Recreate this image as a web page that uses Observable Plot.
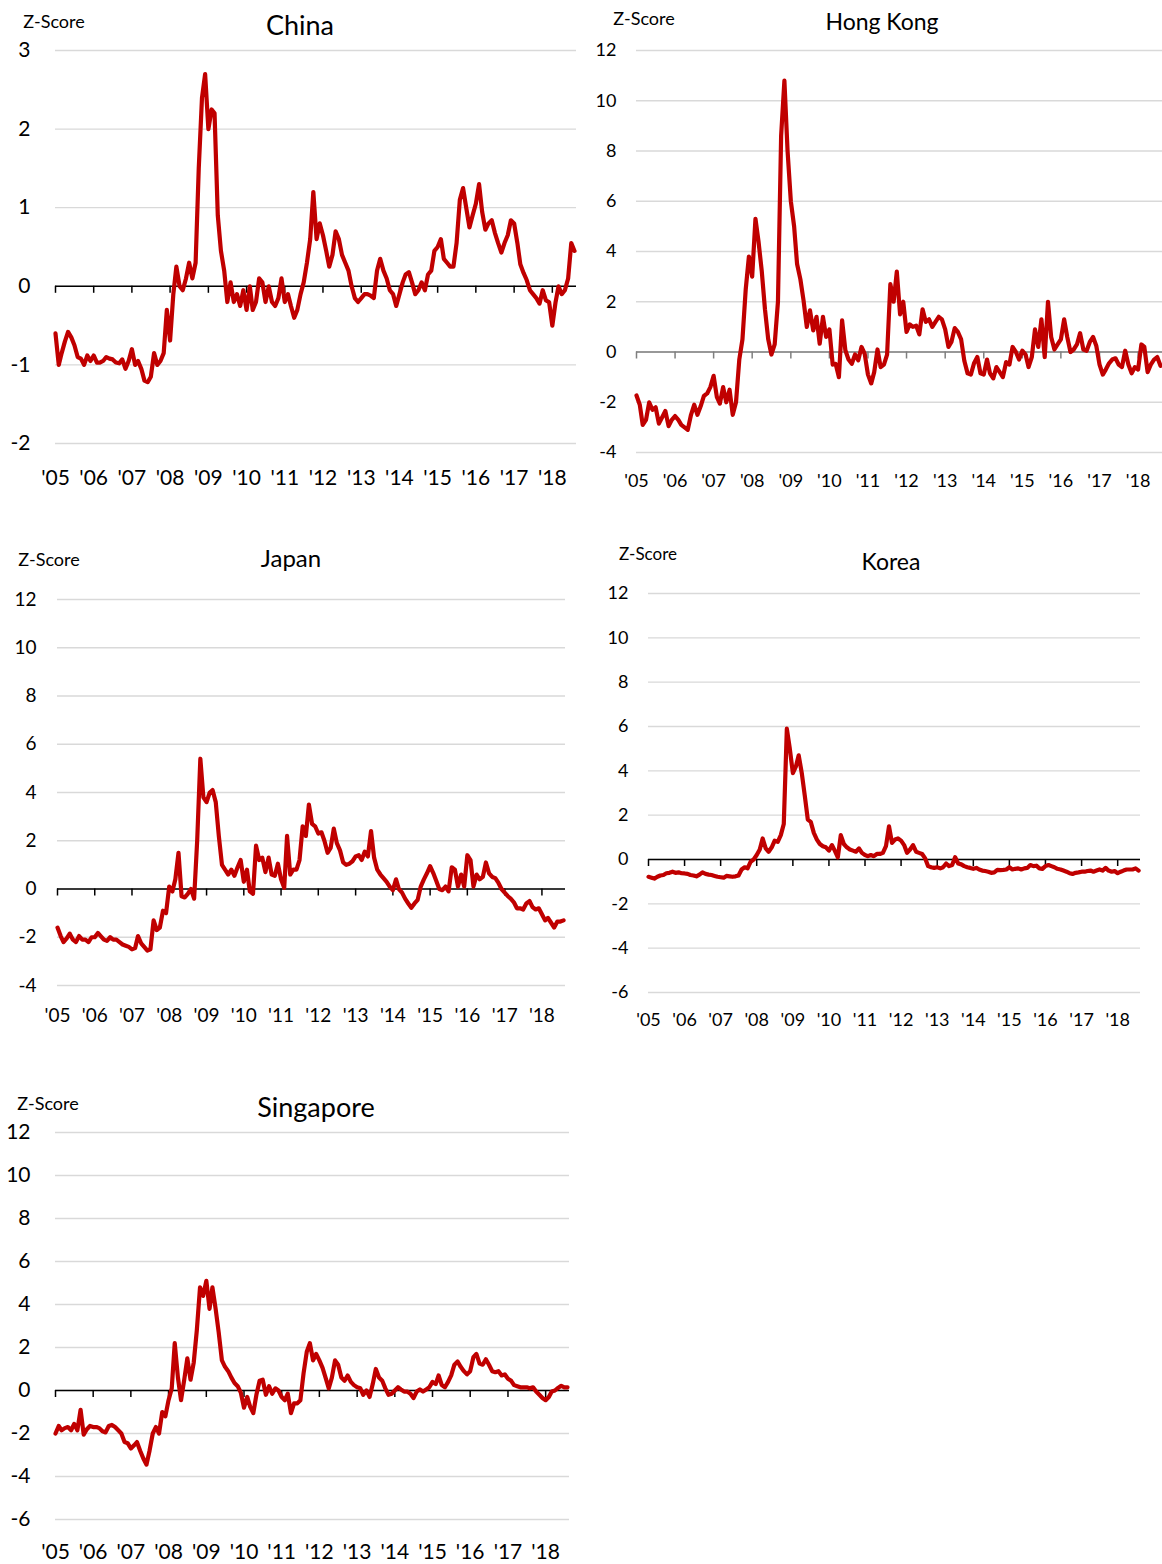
<!DOCTYPE html>
<html><head><meta charset="utf-8">
<script src="https://cdn.jsdelivr.net/npm/d3@7"></script>
<script src="https://cdn.jsdelivr.net/npm/@observablehq/plot@0.6"></script>
<style>
body{margin:0;background:#fff;width:1162px;height:1564px;position:relative;overflow:hidden;font-family:Lato,"Open Sans",sans-serif;color:#000;}
.box{position:absolute;}
.box svg{overflow:visible;}
.lbl{position:absolute;white-space:nowrap;transform:translate(-50%,-50%);line-height:1;}
</style></head><body>
<script>
// ---------- data (monthly readings, Jan 2005 – Aug 2018) ----------
const xTickLabels = ["'05","'06","'07","'08","'09","'10","'11","'12","'13","'14","'15","'16","'17","'18"];
const chinaTicks = [-2,-1,0,1,2,3];
const hkTicks = [-4,-2,0,2,4,6,8,10,12];
const japanTicks = [-4,-2,0,2,4,6,8,10,12];
const koreaTicks = [-6,-4,-2,0,2,4,6,8,10,12];
const singaporeTicks = [-6,-4,-2,0,2,4,6,8,10,12];

const china = [
-0.6,-1.0,-0.85,-0.7,-0.58,-0.65,-0.75,-0.9,-0.92,-1.0,-0.88,-0.95,
-0.88,-0.97,-0.97,-0.95,-0.9,-0.92,-0.93,-0.97,-0.98,-0.93,-1.05,-0.95,
-0.8,-1.0,-0.95,-1.05,-1.2,-1.22,-1.15,-0.85,-1.0,-0.95,-0.85,-0.3,
-0.69,-0.1,0.25,0.0,-0.05,0.1,0.3,0.1,0.3,1.5,2.4,2.7,
2.0,2.25,2.2,0.9,0.45,0.2,-0.2,0.05,-0.2,-0.1,-0.25,-0.05,
-0.3,0.0,-0.3,-0.2,0.1,0.05,-0.2,0.0,-0.2,-0.25,-0.15,0.1,
-0.2,-0.1,-0.25,-0.4,-0.3,-0.1,0.05,0.3,0.6,1.2,0.6,0.8,
0.65,0.45,0.25,0.4,0.7,0.6,0.4,0.3,0.2,0.0,-0.15,-0.2,
-0.15,-0.1,-0.1,-0.12,-0.15,0.2,0.35,0.2,0.1,-0.05,-0.1,-0.25,
-0.1,0.05,0.15,0.18,0.05,-0.1,-0.05,0.05,-0.05,0.15,0.2,0.45,
0.5,0.6,0.35,0.3,0.25,0.25,0.55,1.1,1.25,1.0,0.75,0.9,
1.05,1.3,0.95,0.72,0.8,0.84,0.68,0.55,0.43,0.55,0.65,0.84,
0.8,0.55,0.28,0.17,0.08,-0.05,-0.1,-0.15,-0.22,-0.05,-0.18,-0.2,
-0.5,-0.2,0.0,-0.1,-0.05,0.1,0.55,0.45];

const hongKong = [
-1.73,-2.1,-2.9,-2.7,-2.0,-2.3,-2.2,-2.85,-2.6,-2.35,-2.95,-2.7,
-2.55,-2.7,-2.9,-3.0,-3.1,-2.5,-2.1,-2.5,-2.15,-1.75,-1.65,-1.4,
-0.95,-1.8,-2.05,-1.4,-2.0,-1.5,-2.5,-2.0,-0.3,0.5,2.5,3.8,
3.0,5.3,4.4,3.2,1.7,0.5,-0.1,0.3,2.0,8.6,10.8,8.0,
6.0,5.0,3.5,2.9,2.06,1.0,1.66,0.86,1.4,0.33,1.4,0.6,
0.9,-0.5,-0.47,-1.0,1.26,0.07,-0.3,-0.47,-0.1,-0.33,0.2,-0.07,
-0.9,-1.25,-0.8,0.1,-0.6,-0.5,-0.1,2.7,2.0,3.2,1.5,2.0,
0.8,1.1,1.0,1.05,0.7,1.7,1.2,1.3,1.0,1.2,1.4,1.3,
0.9,0.2,0.4,0.95,0.8,0.5,-0.35,-0.85,-0.9,-0.45,-0.2,-0.85,
-0.9,-0.3,-0.85,-1.05,-0.6,-0.8,-1.0,-0.4,-0.5,0.2,0.0,-0.3,
0.05,-0.1,-0.6,-0.2,0.9,0.2,1.3,-0.2,2.0,0.6,0.1,0.3,
0.5,1.3,0.6,0.0,0.1,0.3,0.75,0.1,0.05,0.4,0.6,0.25,
-0.5,-0.9,-0.7,-0.45,-0.3,-0.25,-0.5,-0.6,0.05,-0.5,-0.85,-0.6,
-0.7,0.3,0.2,-0.8,-0.5,-0.3,-0.2,-0.55];

const japan = [
-1.6,-1.95,-2.2,-2.05,-1.85,-2.1,-2.2,-1.95,-2.1,-2.1,-2.2,-2.0,
-2.0,-1.82,-1.95,-2.1,-2.15,-2.0,-2.1,-2.1,-2.2,-2.3,-2.35,-2.4,
-2.5,-2.45,-1.95,-2.25,-2.4,-2.55,-2.5,-1.3,-1.7,-1.6,-0.9,-1.0,
0.1,-0.1,0.4,1.5,-0.3,-0.35,-0.2,0.0,-0.4,2.0,5.4,3.8,
3.6,4.0,4.1,3.6,2.2,1.0,0.8,0.6,0.8,0.55,0.9,1.2,
0.3,0.8,-0.1,-0.2,1.8,1.2,1.3,0.7,1.3,0.6,0.55,1.05,
0.4,0.05,2.2,0.6,0.8,0.8,1.2,2.6,2.2,3.5,2.7,2.6,
2.3,2.35,2.0,1.5,1.7,2.5,1.9,1.6,1.1,1.0,1.05,1.15,
1.35,1.4,1.2,1.55,1.35,2.4,1.3,0.8,0.6,0.45,0.3,0.1,
-0.05,0.4,0.0,-0.15,-0.4,-0.6,-0.78,-0.6,-0.45,0.1,0.4,0.65,
0.95,0.66,0.35,0.0,-0.05,0.1,-0.1,0.9,0.8,0.1,0.6,0.1,
1.4,1.2,0.1,0.6,0.4,0.5,1.1,0.65,0.5,0.45,0.25,0.0,
-0.15,-0.3,-0.4,-0.55,-0.8,-0.8,-0.85,-0.6,-0.5,-0.75,-0.85,-0.8,
-1.05,-1.3,-1.2,-1.4,-1.6,-1.35,-1.35,-1.3];

const korea = [
-0.78,-0.82,-0.86,-0.78,-0.72,-0.7,-0.62,-0.6,-0.55,-0.6,-0.58,-0.62,
-0.63,-0.65,-0.7,-0.72,-0.76,-0.68,-0.58,-0.65,-0.68,-0.7,-0.74,-0.78,
-0.8,-0.82,-0.74,-0.76,-0.78,-0.76,-0.72,-0.45,-0.35,-0.4,-0.1,0.0,
0.2,0.45,0.95,0.5,0.35,0.55,0.85,0.8,1.1,1.6,5.9,5.0,
3.9,4.2,4.7,3.9,2.9,1.8,1.7,1.2,0.9,0.7,0.6,0.55,
0.4,0.65,0.4,0.1,1.1,0.7,0.55,0.45,0.4,0.35,0.5,0.3,
0.2,0.15,0.2,0.15,0.25,0.25,0.3,0.6,1.5,0.75,0.9,0.95,
0.85,0.65,0.3,0.45,0.65,0.35,0.3,0.25,0.05,-0.3,-0.35,-0.38,
-0.35,-0.4,-0.35,-0.18,-0.3,-0.25,0.1,-0.18,-0.22,-0.3,-0.35,-0.38,
-0.42,-0.38,-0.45,-0.5,-0.52,-0.55,-0.6,-0.58,-0.47,-0.48,-0.47,-0.45,
-0.35,-0.45,-0.42,-0.4,-0.45,-0.4,-0.38,-0.25,-0.3,-0.28,-0.4,-0.42,
-0.3,-0.25,-0.3,-0.35,-0.42,-0.45,-0.5,-0.55,-0.62,-0.65,-0.6,-0.58,
-0.55,-0.55,-0.52,-0.5,-0.55,-0.5,-0.45,-0.5,-0.38,-0.5,-0.55,-0.52,
-0.62,-0.55,-0.5,-0.45,-0.45,-0.45,-0.4,-0.5];

const singapore = [
-2.0,-1.65,-1.85,-1.75,-1.7,-1.85,-1.55,-1.85,-0.9,-2.05,-1.8,-1.65,
-1.7,-1.7,-1.75,-1.9,-1.95,-1.65,-1.6,-1.7,-1.85,-2.0,-2.4,-2.45,
-2.7,-2.55,-2.4,-2.8,-3.15,-3.45,-2.8,-2.0,-1.7,-2.0,-1.0,-1.2,
-0.45,0.1,2.2,0.6,-0.45,0.5,1.5,0.5,1.3,2.8,4.8,4.4,
5.1,3.8,4.8,3.8,2.7,1.4,1.1,0.9,0.6,0.35,0.2,-0.1,
-0.8,-0.3,-0.75,-1.05,-0.2,0.45,0.5,-0.2,0.2,-0.15,0.1,0.0,
-0.3,-0.45,-0.15,-1.05,-0.6,-0.6,-0.45,0.8,1.8,2.2,1.4,1.7,
1.4,1.05,0.6,0.1,0.6,1.4,1.2,0.6,0.45,0.7,0.4,0.25,
0.15,0.1,-0.2,0.0,-0.3,0.3,1.0,0.6,0.45,0.1,-0.2,-0.15,
0.0,0.15,0.05,-0.05,-0.05,-0.15,-0.35,-0.05,0.05,-0.05,0.05,0.15,
0.4,0.3,0.7,0.25,0.15,0.4,0.7,1.2,1.35,1.1,0.9,0.75,
0.9,1.55,1.7,1.25,1.2,1.45,1.2,0.9,0.85,0.9,0.7,0.75,
0.55,0.45,0.25,0.2,0.15,0.15,0.15,0.1,0.15,-0.05,-0.2,-0.35,
-0.45,-0.3,-0.05,0.0,0.12,0.22,0.15,0.15];

// ---------- layout ----------
const FONT = "Lato, 'Open Sans', sans-serif";
const startDate = new Date(Date.UTC(2005, 0, 1));
const endDate = new Date(Date.UTC(2018, 7, 20));
const yearDates = d3.utcYear.range(startDate, new Date(Date.UTC(2019, 0, 1)));

const panels = [
  {title:"China", values:china, yDomain:[-2,3], yTicks:chinaTicks, boxLeft:0, left:55, right:576, top:50, bottom:443, mr:10,
   zero:"#000", yFont:21, yPad:25, xFont:21, xPad:27, tx:300, ty:24, tSize:27, zx:54, zy:21, zSize:18},
  {title:"Hong Kong", values:hongKong, yDomain:[-4,12], yTicks:hkTicks, boxLeft:585, left:636, right:1162, top:50, bottom:452, mr:0,
   zero:"#7f7f7f", yFont:18, yPad:20, xFont:18, xPad:22, tx:882, ty:21, tSize:23, zx:644, zy:18, zSize:18},
  {title:"Japan", values:japan, yDomain:[-4,12], yTicks:japanTicks, boxLeft:0, left:57, right:565, top:599, bottom:985, mr:10,
   zero:"#000", yFont:19, yPad:21, xFont:19, xPad:23, tx:291, ty:558, tSize:24, zx:49, zy:559, zSize:18},
  {title:"Korea", values:korea, yDomain:[-6,12], yTicks:koreaTicks, boxLeft:590, left:648, right:1140, top:593, bottom:992, mr:10,
   zero:"#000", yFont:18, yPad:20, xFont:18, xPad:21, tx:891, ty:561, tSize:23, zx:648, zy:553, zSize:17},
  {title:"Singapore", values:singapore, yDomain:[-6,12], yTicks:singaporeTicks, boxLeft:0, left:55, right:569, top:1132, bottom:1519, mr:10,
   zero:"#000", yFont:21, yPad:25, xFont:21, xPad:25, tx:316, ty:1106, tSize:27, zx:48, zy:1103, zSize:18}
];

function label(text, x, y, size) {
  const d = document.createElement("div");
  d.className = "lbl";
  d.textContent = text;
  d.style.left = x + "px";
  d.style.top = y + "px";
  d.style.fontSize = size + "px";
  document.body.appendChild(d);
}

for (const p of panels) {
  const mt = 12, mb = 60;
  const ml = p.left - p.boxLeft;
  const width = p.right - p.boxLeft + p.mr;
  const height = p.bottom - p.top + mt + mb;
  const data = p.values.map((v, i) => ({date: d3.utcMonth.offset(startDate, i), value: v}));
  const pxPerUnit = (p.bottom - p.top) / (p.yDomain[1] - p.yDomain[0]);
  const tickLen = 7 / pxPerUnit;
  const chart = Plot.plot({
    width, height,
    marginLeft: ml, marginRight: p.mr, marginTop: mt, marginBottom: mb,
    style: {fontFamily: FONT, background: "transparent", color: "#000"},
    x: {type: "utc", domain: [startDate, endDate], label: null},
    y: {domain: p.yDomain, label: null},
    marks: [
      Plot.ruleY(p.yTicks, {stroke: "#d9d9d9", strokeWidth: 1.3}),
      Plot.ruleY([0], {stroke: p.zero, strokeWidth: 1.6}),
      Plot.ruleX(yearDates, {x: d => d, y1: 0, y2: -tickLen, stroke: p.zero, strokeWidth: 1.5}),
      Plot.lineY(data, {x: "date", y: "value", stroke: "#c00000", strokeWidth: 4.2, strokeLinejoin: "round", curve: "linear"}),
      Plot.axisY(p.yTicks, {tickSize: 0, tickPadding: p.yPad, fontSize: p.yFont, tickFormat: d => String(d), fill: "#000"}),
      Plot.axisX(yearDates, {tickSize: 0, tickPadding: p.xPad, fontSize: p.xFont,
        tickFormat: d => xTickLabels[d.getUTCFullYear() - 2005], fill: "#000"})
    ]
  });
  const box = document.createElement("div");
  box.className = "box";
  box.style.left = p.boxLeft + "px";
  box.style.top = (p.top - mt) + "px";
  box.appendChild(chart);
  document.body.appendChild(box);
  label(p.title, p.tx, p.ty, p.tSize);
  label("Z-Score", p.zx, p.zy, p.zSize);
}
</script>
</body></html>
